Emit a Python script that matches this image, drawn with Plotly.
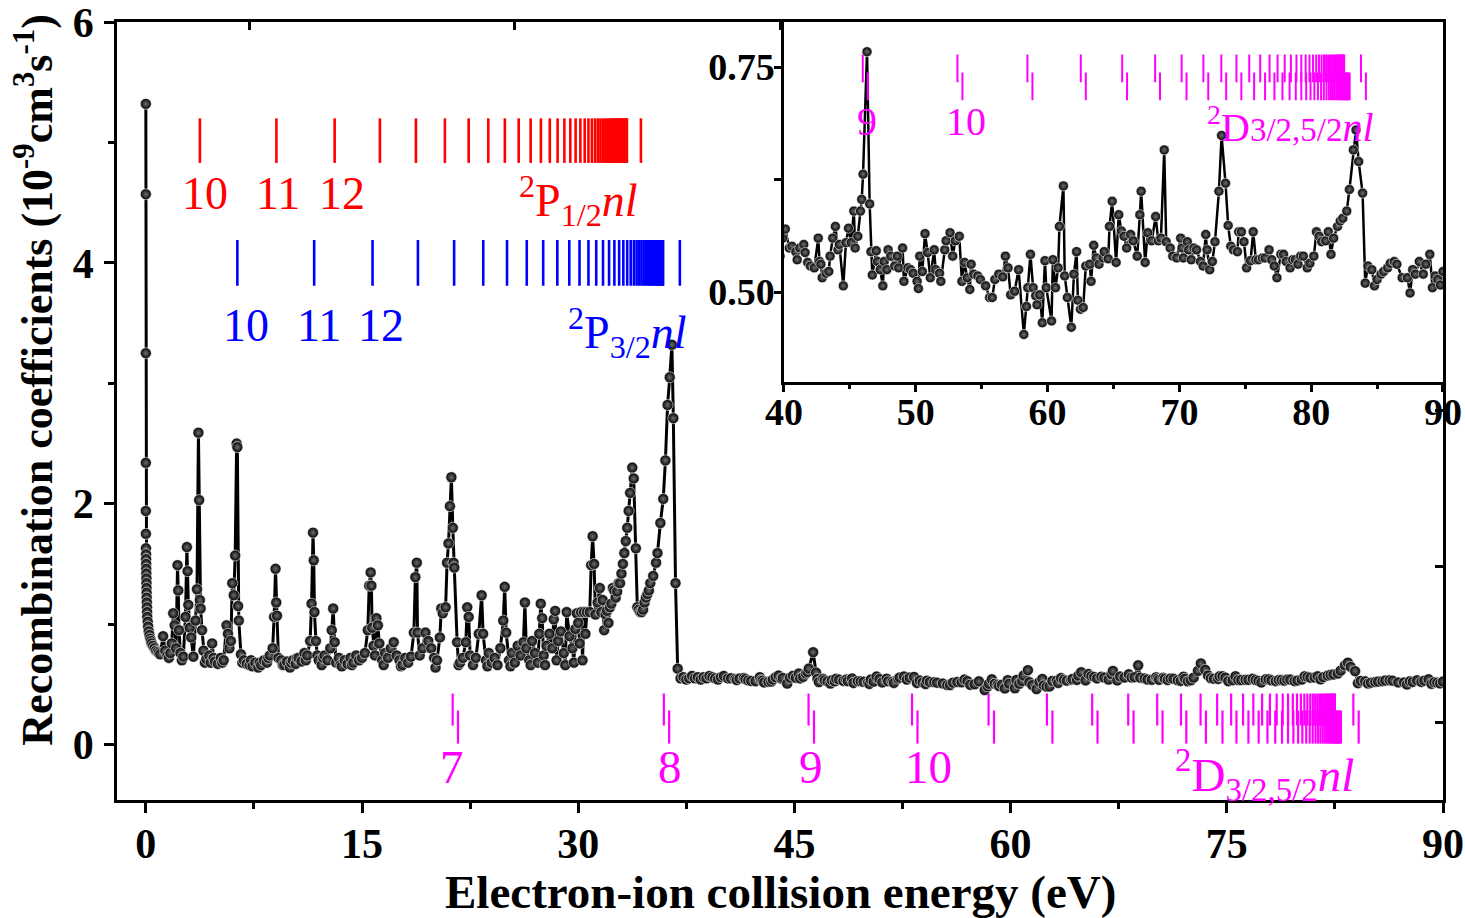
import plotly.graph_objects as go

# ---------------- data ----------------
# energy (eV), recombination coefficient (1e-9 cm^3 s^-1)
pts_threshold = [(0.0, 5.32), (0.0, 4.57), (0.0, 3.25), (0.0, 2.34), (0.0, 1.94),
                 (0.005, 1.75), (0.01, 1.63), (0.015, 1.58), (0.02, 1.54), (0.025, 1.50),
                 (0.03, 1.46), (0.035, 1.42), (0.04, 1.38), (0.045, 1.34), (0.05, 1.30),
                 (0.055, 1.26), (0.06, 1.22), (0.07, 1.18), (0.08, 1.14), (0.09, 1.10),
                 (0.1, 1.06), (0.13, 1.02), (0.16, 0.98), (0.2, 0.94), (0.25, 0.91),
                 (0.3, 0.88), (0.35, 0.86), (0.4, 0.84), (0.5, 0.82), (0.6, 0.80),
                 (0.7, 0.78), (0.8, 0.77), (0.9, 0.76), (1.0, 0.75)]

pts_01_10 = [(1.2, 0.90), (1.35, 0.78), (1.5, 0.74), (1.6, 0.72), (1.7, 0.76), (1.8, 0.84),
             (1.9, 1.09), (2.0, 0.99), (2.1, 0.80), (2.2, 1.49), (2.25, 1.28), (2.3, 0.95),
             (2.4, 0.76), (2.5, 0.70), (2.6, 0.73), (2.75, 1.06), (2.85, 1.64), (2.9, 1.44),
             (2.95, 1.16), (3.05, 0.97), (3.15, 0.89), (3.3, 0.73), (3.45, 1.03), (3.55, 1.29),
             (3.65, 2.59), (3.7, 2.03), (3.75, 1.20), (3.8, 1.13), (3.9, 0.95), (4.0, 0.78),
             (4.1, 0.68), (4.2, 0.71), (4.4, 0.74), (4.5, 0.68), (4.6, 0.84), (4.7, 0.72),
             (4.8, 0.69), (5.0, 0.67), (5.2, 0.72), (5.3, 0.68), (5.4, 0.70), (5.6, 0.99),
             (5.7, 0.92), (5.8, 0.80), (5.9, 0.86), (6.0, 1.34), (6.1, 1.24), (6.2, 1.57),
             (6.3, 2.50), (6.35, 2.47), (6.4, 1.15), (6.45, 1.03), (6.6, 0.75), (6.7, 0.68),
             (6.8, 0.70), (7.0, 0.67), (7.2, 0.66), (7.3, 0.70), (7.4, 0.65), (7.6, 0.68),
             (7.8, 0.64), (7.9, 0.68), (8.0, 0.66), (8.2, 0.70), (8.4, 0.68), (8.5, 0.72),
             (8.6, 0.74), (8.8, 0.80), (8.9, 1.06), (9.0, 1.46), (9.05, 1.18), (9.1, 1.07),
             (9.2, 0.72), (9.4, 0.70), (9.5, 0.66), (9.6, 0.66), (9.8, 0.69)]

pts_10_20 = [(10.0, 0.64), (10.1, 0.68), (10.2, 0.70), (10.4, 0.67), (10.5, 0.72), (10.6, 0.72),
             (10.8, 0.69), (11.0, 0.76), (11.1, 0.70), (11.2, 0.74), (11.4, 0.86), (11.5, 1.17),
             (11.6, 1.76), (11.65, 1.53), (11.7, 1.10), (11.8, 0.86), (11.9, 0.74), (12.0, 0.70),
             (12.2, 0.66), (12.3, 0.72), (12.4, 0.74), (12.6, 0.70), (12.8, 0.80), (12.9, 0.95),
             (13.0, 1.13), (13.1, 0.85), (13.2, 0.68), (13.4, 0.72), (13.5, 0.66), (13.6, 0.65),
             (13.8, 0.70), (14.0, 0.67), (14.2, 0.72), (14.3, 0.66), (14.4, 0.68), (14.6, 0.74),
             (14.8, 0.70), (15.0, 0.72), (15.2, 0.76), (15.4, 0.95), (15.5, 1.32), (15.6, 1.43),
             (15.65, 1.32), (15.7, 0.97), (15.8, 0.82), (15.9, 0.74), (16.0, 1.05), (16.1, 0.99),
             (16.2, 0.84), (16.4, 0.70), (16.5, 0.66), (16.6, 0.76), (16.8, 0.72), (17.0, 0.80),
             (17.2, 0.85), (17.4, 0.74), (17.6, 0.70), (17.7, 0.65), (17.8, 0.66), (18.0, 0.72),
             (18.2, 0.68), (18.4, 0.73), (18.6, 0.93), (18.7, 1.39), (18.8, 1.51), (18.85, 0.93),
             (19.0, 0.74), (19.2, 0.80), (19.4, 0.93), (19.6, 0.86), (19.8, 0.80)]

pts_20_30 = [(20.0, 0.72), (20.1, 0.64), (20.2, 0.70), (20.4, 0.89), (20.5, 1.13), (20.6, 1.09),
             (20.8, 1.14), (20.9, 1.51), (21.0, 1.67), (21.1, 1.98), (21.2, 2.22), (21.3, 1.80),
             (21.35, 1.51), (21.4, 1.47), (21.6, 0.85), (21.7, 0.66), (21.8, 0.68), (22.0, 0.72),
             (22.2, 0.85), (22.3, 1.14), (22.4, 1.06), (22.5, 0.74), (22.7, 0.66), (22.9, 0.72),
             (23.1, 0.92), (23.3, 1.24), (23.4, 0.92), (23.6, 0.70), (23.7, 0.65), (23.8, 0.76),
             (24.0, 0.68), (24.2, 0.72), (24.4, 0.66), (24.6, 0.80), (24.8, 1.03), (24.9, 1.31),
             (25.0, 0.93), (25.2, 0.70), (25.3, 0.65), (25.4, 0.76), (25.6, 0.68), (25.8, 0.82),
             (26.0, 0.74), (26.2, 0.85), (26.3, 1.18), (26.4, 0.80), (26.6, 0.70), (26.7, 0.66),
             (26.8, 0.86), (27.0, 0.76), (27.2, 0.68), (27.3, 0.92), (27.4, 1.17), (27.5, 1.05),
             (27.6, 0.74), (27.7, 0.66), (27.8, 0.82), (28.0, 0.92), (28.2, 0.80), (28.3, 1.04),
             (28.4, 1.11), (28.5, 0.70), (28.6, 0.86), (28.8, 0.94), (29.0, 0.76), (29.1, 0.66),
             (29.2, 1.10), (29.4, 0.90), (29.6, 0.80), (29.7, 0.68), (29.8, 0.96), (29.9, 1.09)]

pts_30_40 = [(30.0, 1.01), (30.1, 0.84), (30.2, 1.10), (30.3, 0.70), (30.4, 1.10), (30.5, 0.92),
             (30.6, 1.10), (30.8, 1.10), (30.9, 1.49), (31.0, 1.73), (31.1, 1.50), (31.2, 1.08),
             (31.35, 1.18), (31.5, 1.30), (31.6, 1.10), (31.7, 1.20), (31.8, 0.95), (31.9, 1.08),
             (32.0, 1.11), (32.1, 1.01), (32.2, 1.14), (32.3, 1.17), (32.4, 1.30), (32.5, 1.28),
             (32.6, 1.22), (32.7, 1.27), (32.8, 1.34), (32.9, 1.34), (33.0, 1.42), (33.1, 1.50),
             (33.2, 1.59), (33.3, 1.69), (33.4, 1.80), (33.5, 1.94), (33.6, 2.09), (33.75, 2.30),
             (33.85, 2.21), (34.0, 1.63), (34.1, 1.14), (34.2, 1.12), (34.3, 1.10), (34.4, 1.10),
             (34.5, 1.12), (34.6, 1.18), (34.7, 1.22), (34.8, 1.25), (34.9, 1.28), (35.0, 1.34),
             (35.2, 1.40), (35.4, 1.51), (35.5, 1.59), (35.7, 1.84), (35.9, 2.04), (36.05, 2.36),
             (36.2, 2.82), (36.35, 3.05), (36.5, 3.32), (36.6, 2.71), (36.75, 1.34), (36.9, 0.63),
             (37.1, 0.55), (37.3, 0.56), (37.5, 0.54), (37.7, 0.55), (37.9, 0.57), (38.1, 0.55),
             (38.3, 0.56), (38.5, 0.54), (38.7, 0.56), (38.9, 0.55), (39.1, 0.57), (39.3, 0.56),
             (39.5, 0.55), (39.7, 0.54), (39.9, 0.56)]

pts_40_55 = [(40.1, 0.570), (40.4, 0.549), (40.6, 0.551), (40.9, 0.545), (41.0, 0.536), (41.2, 0.549),
             (41.5, 0.553), (41.6, 0.544), (41.8, 0.533), (42.0, 0.529), (42.3, 0.527), (42.6, 0.560),
             (42.7, 0.534), (42.8, 0.531), (42.9, 0.516), (43.2, 0.521), (43.4, 0.523), (43.5, 0.540),
             (43.7, 0.560), (43.9, 0.573), (44.1, 0.547), (44.2, 0.553), (44.5, 0.507), (44.7, 0.555),
             (44.9, 0.571), (45.1, 0.555), (45.3, 0.590), (45.4, 0.549), (45.6, 0.562), (45.8, 0.590),
             (45.9, 0.603), (46.0, 0.631), (46.3, 0.767), (46.5, 0.598), (46.6, 0.545), (46.7, 0.519),
             (47.0, 0.546), (47.1, 0.534), (47.3, 0.525), (47.5, 0.507), (47.6, 0.534), (47.8, 0.525),
             (47.9, 0.547), (48.1, 0.540), (48.4, 0.529), (48.6, 0.540), (48.7, 0.527), (49.0, 0.549),
             (49.1, 0.512), (49.4, 0.527), (49.6, 0.525), (49.8, 0.521), (50.1, 0.512), (50.2, 0.504),
             (50.3, 0.540), (50.5, 0.523), (50.7, 0.565), (50.9, 0.544), (51.1, 0.516), (51.4, 0.547),
             (51.5, 0.525), (51.8, 0.521), (51.9, 0.512), (52.2, 0.547), (52.3, 0.557), (52.6, 0.566),
             (52.8, 0.540), (53.0, 0.557), (53.3, 0.562), (53.5, 0.512), (53.7, 0.533), (53.9, 0.516),
             (54.1, 0.503), (54.2, 0.531), (54.4, 0.520), (54.7, 0.518), (54.9, 0.514)]

pts_55_70 = [(55.3, 0.507), (55.6, 0.494), (55.8, 0.494), (56.0, 0.514), (56.3, 0.520), (56.6, 0.517),
             (56.8, 0.540), (57.0, 0.527), (57.2, 0.497), (57.5, 0.501), (57.8, 0.525), (58.2, 0.453),
             (58.4, 0.484), (58.5, 0.505), (58.7, 0.542), (58.9, 0.505), (59.1, 0.496), (59.2, 0.486),
             (59.4, 0.497), (59.6, 0.466), (59.8, 0.535), (59.9, 0.505), (60.3, 0.468), (60.4, 0.536),
             (60.6, 0.505), (60.8, 0.527), (60.9, 0.573), (61.2, 0.618), (61.3, 0.518), (61.5, 0.494),
             (61.8, 0.461), (62.0, 0.520), (62.2, 0.545), (62.3, 0.491), (62.5, 0.481), (62.7, 0.483),
             (62.9, 0.529), (63.2, 0.531), (63.3, 0.512), (63.5, 0.552), (63.7, 0.538), (63.9, 0.531),
             (64.2, 0.538), (64.3, 0.545), (64.6, 0.537), (64.7, 0.573), (64.9, 0.601), (65.2, 0.533),
             (65.4, 0.586), (65.6, 0.568), (65.8, 0.562), (66.0, 0.549), (66.3, 0.564), (66.5, 0.557),
             (66.8, 0.540), (67.0, 0.586), (67.1, 0.612), (67.4, 0.533), (67.6, 0.566), (67.9, 0.557),
             (68.2, 0.584), (68.4, 0.557), (68.6, 0.560), (68.85, 0.658), (69.0, 0.556), (69.3, 0.549),
             (69.5, 0.540), (69.8, 0.538)]

pts_70_90 = [(70.1, 0.560), (70.2, 0.549), (70.3, 0.538), (70.6, 0.556), (70.7, 0.547), (70.9, 0.536),
             (71.1, 0.549), (71.3, 0.547), (71.6, 0.534), (71.8, 0.529), (72.0, 0.564), (72.1, 0.547),
             (72.3, 0.525), (72.5, 0.534), (72.7, 0.556), (73.0, 0.612), (73.2, 0.674), (73.5, 0.621),
             (73.7, 0.574), (73.9, 0.551), (74.1, 0.547), (74.4, 0.545), (74.5, 0.567), (74.7, 0.567),
             (74.9, 0.556), (75.1, 0.527), (75.4, 0.535), (75.6, 0.567), (75.8, 0.536), (76.0, 0.536),
             (76.3, 0.538), (76.5, 0.538), (76.8, 0.547), (77.0, 0.536), (77.2, 0.529), (77.4, 0.516),
             (77.7, 0.542), (77.9, 0.542), (78.1, 0.534), (78.4, 0.527), (78.6, 0.536), (78.8, 0.536),
             (79.0, 0.531), (79.2, 0.540), (79.4, 0.540), (79.7, 0.527), (79.9, 0.532), (80.2, 0.540),
             (80.4, 0.567), (80.6, 0.562), (80.8, 0.556), (81.1, 0.557), (81.3, 0.567), (81.5, 0.542),
             (81.7, 0.560), (82.0, 0.573), (82.2, 0.579), (82.4, 0.582), (82.7, 0.590), (82.9, 0.614),
             (83.2, 0.658), (83.4, 0.680), (83.6, 0.645), (83.9, 0.610), (84.1, 0.510), (84.3, 0.529),
             (84.6, 0.525), (84.8, 0.507), (85.0, 0.514), (85.3, 0.520), (85.5, 0.523), (85.8, 0.527),
             (86.0, 0.532), (86.3, 0.534), (86.5, 0.531), (86.9, 0.516), (87.3, 0.516), (87.5, 0.499),
             (87.7, 0.525), (87.9, 0.520), (88.2, 0.534), (88.5, 0.520), (88.7, 0.531), (89.0, 0.542),
             (89.2, 0.505), (89.4, 0.518), (89.6, 0.514), (89.8, 0.508), (90.0, 0.523)]

# Rydberg resonance positions (eV)
p12_positions = [3.75, 9.06, 13.10, 16.24, 18.74, 20.75, 22.40, 23.76, 24.91, 25.87, 26.70,
                 27.41, 28.03, 28.57, 29.04, 29.45, 29.82, 30.15, 30.45, 30.71, 30.95, 31.17,
                 31.36, 31.54, 31.70, 31.85, 31.99, 32.11, 32.23, 32.34, 32.44, 32.53, 32.62,
                 32.70, 32.77, 32.84, 32.90, 32.96, 33.02, 33.08, 33.13, 33.18, 33.22, 33.26,
                 33.30, 33.34, 33.38, 34.35]
p32_positions = [6.35, 11.68, 15.73, 18.88, 21.39, 23.41, 25.06, 26.43, 27.57, 28.55, 29.38,
                 30.09, 30.71, 31.25, 31.72, 32.14, 32.51, 32.84, 33.13, 33.40, 33.64, 33.86,
                 34.05, 34.23, 34.39, 34.54, 34.68, 34.81, 34.92, 35.03, 35.13, 35.22, 35.31,
                 35.39, 35.46, 35.53, 35.60, 35.66, 35.72, 35.77, 35.82, 35.86, 35.89, 37.05]
d_a_positions = [21.29, 35.94, 45.98, 53.16, 58.47, 62.52, 65.66, 68.16, 70.17, 71.82, 73.18,
                 74.33, 75.30, 76.13, 76.84, 77.45, 77.99, 78.46, 78.88, 79.25, 79.58, 79.87,
                 80.14, 80.38, 80.59, 80.79, 80.97, 81.13, 81.28, 81.42, 81.54, 81.66, 81.77,
                 81.87, 81.96, 82.04, 82.12, 82.20, 82.27, 82.33, 82.39, 82.45, 82.50, 83.78]
d_b_positions = [21.66, 36.31, 46.36, 53.54, 58.85, 62.90, 66.03, 68.53, 70.54, 72.19, 73.55,
                 74.70, 75.67, 76.50, 77.21, 77.82, 78.36, 78.83, 79.25, 79.62, 79.95, 80.24,
                 80.51, 80.75, 80.96, 81.16, 81.34, 81.50, 81.65, 81.79, 81.91, 82.03, 82.14,
                 82.24, 82.33, 82.41, 82.49, 82.57, 82.64, 82.70, 82.76, 82.82, 82.92, 84.15]

# labels: (text, x, y)
red_labels = [("10", 4.1, 4.58), ("11", 9.2, 4.58), ("12", 13.6, 4.58),
              ("<sup>2</sup>P<sub>1/2</sub><i>nl</i>", 30.0, 4.52)]
blue_labels = [("10", 6.94, 3.48), ("11", 12.0, 3.48), ("12", 16.3, 3.48),
               ("<sup>2</sup>P<sub>3/2</sub><i>nl</i>", 33.45, 3.42)]
mag_labels = [("7", 21.24, -0.19), ("8", 36.36, -0.19), ("9", 46.15, -0.19), ("10", 54.27, -0.19),
              ("<sup>2</sup>D<sub>3/2,5/2</sub><i>nl</i>", 77.6, -0.25)]
inset_labels = [("9", 46.3, 0.689), ("10", 53.8, 0.689),
                ("<sup>2</sup>D<span style='font-size:33px'>3/2,5/2</span><i>nl</i>", 78.4, 0.686)]

x_ticks_main = [0, 15, 30, 45, 60, 75, 90]
y_ticks_main = [0, 2, 4, 6]
x_ticks_inset = [40, 50, 60, 70, 80, 90]
y_ticks_inset = [0.50, 0.625, 0.75]
y_ticktext_inset = ["0.50", "", "0.75"]
top_ticks = [7.22, 25.61, 44.0, 62.46, 80.85]
right_ticks = [0.183, 1.479, 2.776, 4.072, 5.368]

# ---------------- build ----------------
all_pts = pts_threshold + pts_01_10 + pts_10_20 + pts_20_30 + pts_30_40 + pts_40_55 + pts_55_70 + pts_70_90
energy = [p[0] for p in all_pts]
rate = [p[1] for p in all_pts]

SERIF = "Liberation Serif, Times New Roman, serif"
BLACK = "black"


def tick_lines(positions, y0, y1):
    xs, ys = [], []
    for p in positions:
        xs += [p, p, None]
        ys += [y0, y1, None]
    return xs, ys


fig = go.Figure()

sphere = dict(color="#000000", gradient=dict(type="radial", color="#6e6e6e"),
              line=dict(color="white", width=0.6))

# main data
fig.add_trace(go.Scatter(x=energy, y=rate, mode="lines+markers",
                         line=dict(color=BLACK, width=3),
                         marker=dict(size=11, **sphere),
                         xaxis="x", yaxis="y", showlegend=False))

# Rydberg markers, main panel
for pos, y0, y1, col, w in [(p12_positions, 4.83, 5.20, "#ff0000", 2.6),
                            (p32_positions, 3.81, 4.19, "#0000ff", 2.6),
                            (d_a_positions, 0.158, 0.424, "#ff00ff", 2.2),
                            (d_b_positions, 0.008, 0.283, "#ff00ff", 2.2)]:
    xs, ys = tick_lines(pos, y0, y1)
    fig.add_trace(go.Scatter(x=xs, y=ys, mode="lines", line=dict(color=col, width=w),
                             xaxis="x", yaxis="y", showlegend=False, hoverinfo="skip"))

# inset data
fig.add_trace(go.Scatter(x=energy, y=rate, mode="lines+markers",
                         line=dict(color=BLACK, width=2.5),
                         marker=dict(size=10, **sphere),
                         xaxis="x2", yaxis="y2", showlegend=False))
for pos, y0, y1 in [(d_a_positions, 0.733, 0.764), (d_b_positions, 0.713, 0.744)]:
    xs, ys = tick_lines(pos, y0, y1)
    fig.add_trace(go.Scatter(x=xs, y=ys, mode="lines", line=dict(color="#ff00ff", width=2),
                             xaxis="x2", yaxis="y2", showlegend=False, hoverinfo="skip"))

# helper traces for the opposite (top / right) tick axes
fig.add_trace(go.Scatter(x=[None], y=[None], xaxis="x3", yaxis="y", showlegend=False))
fig.add_trace(go.Scatter(x=[None], y=[None], xaxis="x", yaxis="y3", showlegend=False))

ann = []
for txt, x, y in red_labels:
    ann.append(dict(text=txt, x=x, y=y, xref="x", yref="y", showarrow=False,
                    font=dict(family=SERIF, size=46, color="#ff0000")))
for txt, x, y in blue_labels:
    ann.append(dict(text=txt, x=x, y=y, xref="x", yref="y", showarrow=False,
                    font=dict(family=SERIF, size=46, color="#0000ff")))
for txt, x, y in mag_labels:
    ann.append(dict(text=txt, x=x, y=y, xref="x", yref="y", showarrow=False,
                    font=dict(family=SERIF, size=47, color="#ff00ff")))
for txt, x, y in inset_labels:
    ann.append(dict(text=txt, x=x, y=y, xref="x2", yref="y2", showarrow=False,
                    font=dict(family=SERIF, size=40, color="#ff00ff")))

ann.append(dict(text="Electron-ion collision energy (eV)", x=0.5, y=-0.118,
                xref="paper", yref="paper", showarrow=False, yanchor="middle",
                font=dict(family=SERIF, size=47, color=BLACK, weight="bold")))
ann.append(dict(text="Recombination coefficients (10<sup>-9</sup>cm<sup>3</sup>s<sup>-1</sup>)",
                x=-0.062, y=0.54, xref="paper", yref="paper", showarrow=False, textangle=-90,
                xanchor="center", yanchor="middle",
                font=dict(family=SERIF, size=44, color=BLACK, weight="bold")))

axis_common = dict(showgrid=False, zeroline=False, showline=True, linecolor=BLACK,
                   linewidth=2.5, mirror=True, tickcolor=BLACK, tickwidth=2.5,
                   automargin=False, ticklabeloverflow="allow")
main_font = dict(family=SERIF, size=42, color=BLACK, weight="bold")
inset_font = dict(family=SERIF, size=38, color=BLACK, weight="bold")

fig.update_layout(
    width=1465, height=918,
    margin=dict(l=117, r=22, t=22, b=118, autoexpand=False),
    paper_bgcolor="white", plot_bgcolor="white",
    showlegend=False,
    annotations=ann,
    xaxis=dict(domain=[0, 1], range=[-2, 90], anchor="y", tickvals=x_ticks_main,
               ticks="outside", ticklen=10, tickfont=main_font, ticklabelstandoff=-5,
               minor=dict(dtick=7.5, tick0=0, ticks="outside", ticklen=6, tickwidth=2.5,
                          tickcolor=BLACK), **axis_common),
    yaxis=dict(domain=[0, 1], range=[-0.46, 6], anchor="x", tickvals=y_ticks_main,
               ticks="outside", ticklen=10, tickfont=main_font, ticklabelstandoff=2,
               minor=dict(tickvals=[1, 3, 5], ticks="outside", ticklen=6, tickwidth=2.5,
                          tickcolor=BLACK), **axis_common),
    xaxis3=dict(overlaying="x", side="top", range=[-2, 90], anchor="y", tickvals=top_ticks,
                ticks="inside", ticklen=8, tickwidth=2.5, tickcolor=BLACK, automargin=False,
                showticklabels=False, showline=False, showgrid=False, zeroline=False),
    yaxis3=dict(overlaying="y", side="right", range=[-0.46, 6], anchor="x", tickvals=right_ticks,
                ticks="inside", ticklen=8, tickwidth=2.5, tickcolor=BLACK, automargin=False,
                showticklabels=False, showline=False, showgrid=False, zeroline=False),
    xaxis2=dict(domain=[0.503, 1.0], range=[40, 90], anchor="y2", tickvals=x_ticks_inset,
                ticks="outside", ticklen=7, tickfont=inset_font, ticklabelstandoff=-13,
                minor=dict(dtick=5, tick0=0, ticks="outside", ticklen=4, tickwidth=2.5,
                           tickcolor=BLACK), **axis_common),
    yaxis2=dict(domain=[0.537, 1.0], range=[0.40, 0.80], anchor="x2", tickvals=y_ticks_inset,
                ticktext=y_ticktext_inset, ticks="outside", ticklen=7, tickfont=inset_font,
                ticklabelstandoff=-8, **axis_common),
)

fig.write_html("out.html")
